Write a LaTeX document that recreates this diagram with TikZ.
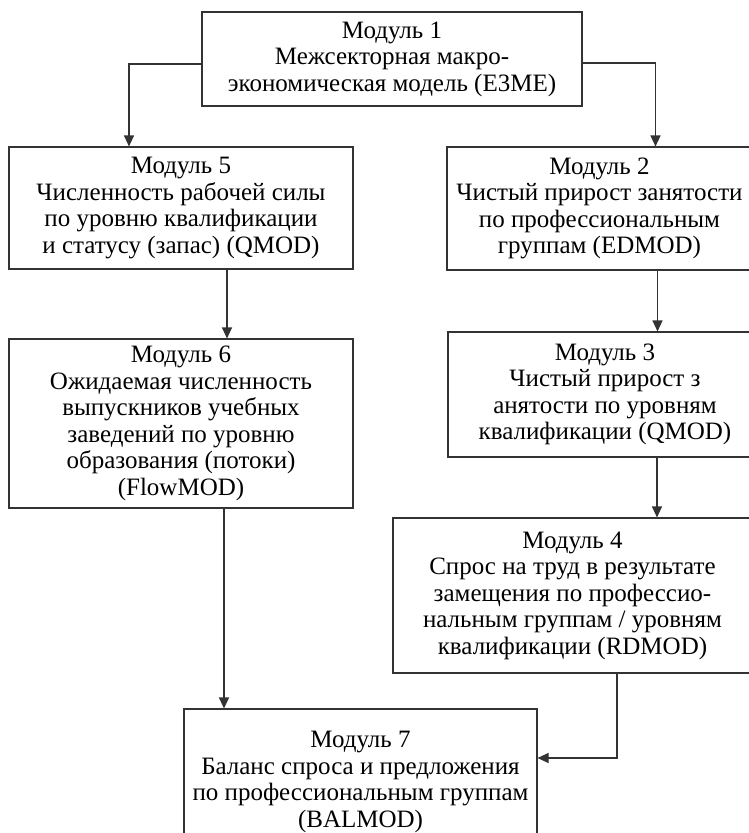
\documentclass[tikz,border=0pt]{standalone}
\usepackage{fontspec}
\setmainfont{Liberation Serif}
\usetikzlibrary{arrows.meta,calc}

\begin{document}
\begin{tikzpicture}[x=1pt, y=-1pt, >={Triangle[length=11pt,width=10pt]}, line width=1.1pt,
    module/.style={draw=black!80, align=center, inner sep=0pt, font=\fontsize{25}{26.5}\selectfont},
    flow/.style={->, draw=black!80}]
    \useasboundingbox (0,0) rectangle (749,833);
    \clip (0,0) rectangle (749,833);
    % Modules
    \node [module, minimum width=380pt, minimum height=94pt] (m1) at (392,59) {Модуль 1\\Межсекторная макро-\\экономическая модель (E3ME)};
    \node [module, minimum width=344pt, minimum height=122pt] (m5) at (181,208) {Модуль 5\\Численность рабочей силы\\по уровню квалификации\\и статусу (запас) (QMOD)};
    \node [module, minimum width=344pt, minimum height=169pt] (m6) at (181,423.5) {Модуль 6\\Ожидаемая численность\\выпускников учебных\\заведений по уровню\\образования (потоки)\\(FlowMOD)};
    \node [module, minimum width=305pt, minimum height=123pt] (m2) at (599.5,208.5) {Модуль 2\\Чистый прирост занятости\\по профессиональным\\группам (EDMOD)};
    \node [module, minimum width=314pt, minimum height=125pt] (m3) at (605,394.5) {Модуль 3\\Чистый прирост з\\анятости по уровням\\квалификации (QMOD)};
    \node [module, minimum width=359pt, minimum height=155pt] (m4) at (572.5,595.5) {Модуль 4\\Спрос на труд в результате\\замещения по профессио-\\нальным группам / уровням\\квалификации (RDMOD)};
    \node [module, minimum width=353pt, minimum height=146pt] (m7) at (360.5,782) {Модуль 7\\Баланс спроса и предложения\\по профессиональным группам\\(BALMOD)};

    % Connections
    \draw [flow] ([yshift=-5pt]m1.west) -| ([xshift=-52pt]m5.north);
    \draw [flow] ([yshift=-4pt]m1.east) -| ([xshift=56pt]m2.north);
    \draw [flow] ([xshift=46pt]m5.south) -- ([xshift=46pt]m6.north);
    \draw [flow] ([xshift=43pt]m6.south) -- ([xshift=43pt]m6.south |- m7.north);
    \draw [flow] ([xshift=58pt]m2.south) -- ([xshift=58pt]m2.south |- m3.north);
    \draw [flow] ([xshift=52pt]m3.south) -- ([xshift=52pt]m3.south |- m4.north);
    \draw [flow] ([xshift=44.5pt]m4.south) |- ([yshift=24pt]m7.east);
\end{tikzpicture}
\end{document}
